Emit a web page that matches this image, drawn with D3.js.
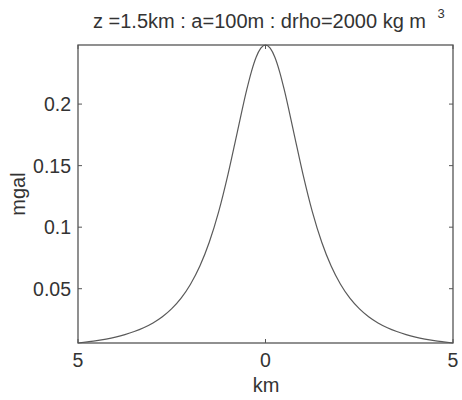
<!DOCTYPE html>
<html lang="en">
<head>
<meta charset="utf-8">
<title>sphere gravity anomaly</title>
<script src="https://d3js.org/d3.v7.min.js"></script>
<style>
  body { margin: 0; background: #ffffff; }
  svg text { font-family: "Liberation Sans", Arial, sans-serif; fill: #333; }
</style>
</head>
<body>
<svg id="chart" width="462" height="400"></svg>
<script>
// distance along profile (km) and anomaly (mgal)
var distKm = [-5, -4.75, -4.5, -4.25, -4, -3.75, -3.5, -3.25, -3, -2.75, -2.5, -2.25, -2, -1.75, -1.5, -1.25, -1, -0.75, -0.5, -0.375, -0.25, -0.125,
              0, 0.125, 0.25, 0.375, 0.5, 0.75, 1, 1.25, 1.5, 1.75, 2, 2.25, 2.5, 2.75, 3, 3.25, 3.5, 3.75, 4, 4.25, 4.5, 4.75, 5];
var gravMgal = [0.0059, 0.0068, 0.0078, 0.0091, 0.0107, 0.0127, 0.0152, 0.0183, 0.0222, 0.0272, 0.0338, 0.0423, 0.0536, 0.0684, 0.0877, 0.1124, 0.1429, 0.1775, 0.2117, 0.2264, 0.2380, 0.2454,
                0.2480, 0.2454, 0.2380, 0.2264, 0.2117, 0.1775, 0.1429, 0.1124, 0.0877, 0.0684, 0.0536, 0.0423, 0.0338, 0.0272, 0.0222, 0.0183, 0.0152, 0.0127, 0.0107, 0.0091, 0.0078, 0.0068, 0.0059];
var xTicks = [-5, 0, 5];
var yTicks = [0.05, 0.1, 0.15, 0.2];

// plot box (window.top is read-only, so no bare "top")
var box = { l: 78, r: 453, t: 45, b: 343 };
var svg = d3.select("#chart");

var x = d3.scaleLinear().domain([-5, 5]).range([box.l, box.r]);
var y = d3.scaleLinear().domain([d3.min(gravMgal), d3.max(gravMgal)]).range([box.b, box.t]);

var pts = distKm.map(function(d, i) { return [d, gravMgal[i]]; });

// curve
svg.append("path")
  .datum(pts)
  .attr("fill", "none")
  .attr("stroke", "#5a5a5a")
  .attr("stroke-width", 1.2)
  .attr("d", d3.line().x(function(d) { return x(d[0]); }).y(function(d) { return y(d[1]); }).curve(d3.curveMonotoneX));

// box
svg.append("rect")
  .attr("x", box.l).attr("y", box.t)
  .attr("width", box.r - box.l).attr("height", box.b - box.t)
  .attr("fill", "none").attr("stroke", "#555").attr("stroke-width", 1.3);

// ticks, inward on all sides (matlab style)
var tl = 4;
xTicks.forEach(function(t) {
  svg.append("line").attr("x1", x(t)).attr("x2", x(t)).attr("y1", box.b).attr("y2", box.b - tl).attr("stroke", "#555");
  svg.append("line").attr("x1", x(t)).attr("x2", x(t)).attr("y1", box.t).attr("y2", box.t + tl).attr("stroke", "#555");
  svg.append("text").attr("x", x(t)).attr("y", 367).attr("text-anchor", "middle")
    .attr("font-size", 19.5).text(String(Math.abs(t)));
});
yTicks.forEach(function(t) {
  svg.append("line").attr("x1", box.l).attr("x2", box.l + tl).attr("y1", y(t)).attr("y2", y(t)).attr("stroke", "#555");
  svg.append("line").attr("x1", box.r).attr("x2", box.r - tl).attr("y1", y(t)).attr("y2", y(t)).attr("stroke", "#555");
  svg.append("text").attr("x", 71).attr("y", y(t)).attr("dy", "0.36em").attr("text-anchor", "end")
    .attr("font-size", 19.5).text(String(t));
});

// labels
svg.append("text").attr("x", 266).attr("y", 392).attr("text-anchor", "middle").attr("font-size", 20).text("km");
svg.append("text").attr("transform", "translate(25,194) rotate(-90)").attr("text-anchor", "middle")
  .attr("font-size", 20).text("mgal");

var title = svg.append("text").attr("x", 93).attr("y", 28).attr("font-size", 20);
title.append("tspan").text("z =1.5km : a=100m : drho=2000 kg m ");
title.append("tspan").attr("dx", 6).attr("dy", -10).attr("font-size", 13).text("3");
</script>
</body>
</html>
